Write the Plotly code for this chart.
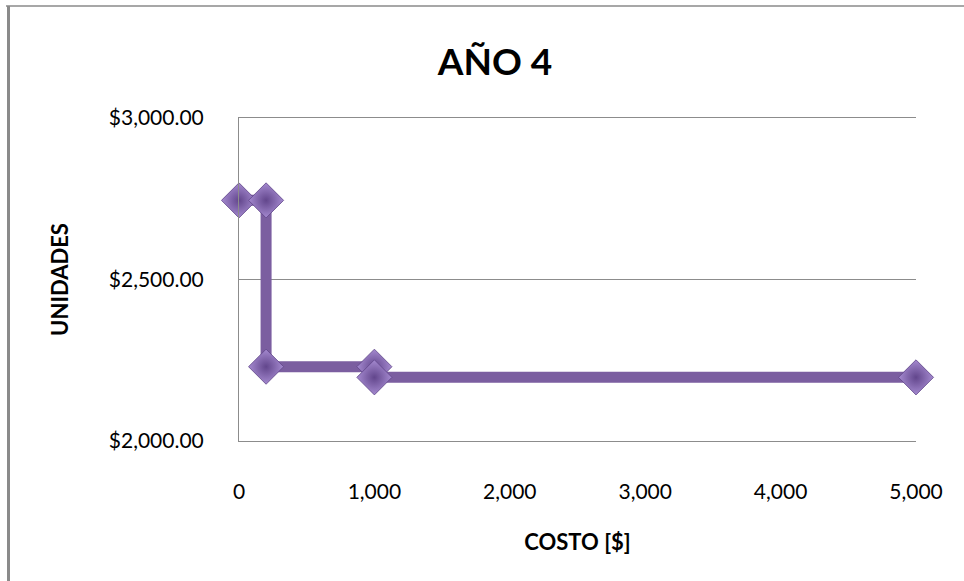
import plotly.graph_objects as go

# Cost (x) vs. units (y) for year 4
costo = [0, 200, 200, 1000, 1000, 5000]
unidades = [2745, 2745, 2230, 2230, 2197, 2197]

x_ticks = [0, 1000, 2000, 3000, 4000, 5000]
y_ticks = [2000, 2500, 3000]

LINE_PURPLE = "#7B5EA0"
GRID_GRAY = "#8C8C8C"
FONT = "Lato"

fig = go.Figure()
fig.add_trace(go.Scatter(
    x=costo,
    y=unidades,
    mode="lines+markers",
    line=dict(color=LINE_PURPLE, width=11),
    marker=dict(
        symbol="diamond",
        size=27,
        color="#A58AD0",
        gradient=dict(type="radial", color="#62468C"),
        line=dict(color="#5E4488", width=0.8),
    ),
    cliponaxis=False,
    showlegend=False,
))

fig.update_layout(
    width=964,
    height=581,
    margin=dict(l=239, r=48, t=118, b=140),
    paper_bgcolor="white",
    plot_bgcolor="white",
    font=dict(family=FONT, color="black", size=21),
    title=dict(
        text="<b>AÑO 4</b>",
        font=dict(family=FONT, size=37, color="black"),
        x=495 / 964,
        xanchor="center",
        xref="container",
        y=1 - 62 / 581,
        yanchor="middle",
        yref="container",
    ),
    xaxis=dict(
        range=[0, 5000],
        tickvals=x_ticks,
        tickformat=",d",
        showgrid=False,
        zeroline=False,
        # bottom and top edges double as the $2,000 / $3,000 gridlines
        showline=True,
        mirror=True,
        linecolor=GRID_GRAY,
        linewidth=1,
        ticks="",
        ticklabelstandoff=32,
        tickfont=dict(family=FONT, size=21),
        title=dict(text="<b>COSTO [$]</b>", font=dict(family=FONT, size=22), standoff=32),
    ),
    yaxis=dict(
        range=[2000, 3000],
        tickvals=y_ticks,
        tickformat="$,.2f",
        showgrid=True,
        gridcolor=GRID_GRAY,
        gridwidth=1,
        zeroline=False,
        showline=True,
        linecolor=GRID_GRAY,
        linewidth=1,
        ticks="",
        ticklabelstandoff=30,
        tickfont=dict(family=FONT, size=21),
        title=dict(text="<b>UNIDADES</b>", font=dict(family=FONT, size=22), standoff=34),
    ),
)

# Outer chart frame: thin top edge and heavier left edge
fig.add_shape(type="line", xref="paper", yref="paper",
              x0=(6 - 239) / 677, x1=(964 - 239) / 677,
              y0=1 + (118 - 6) / 323, y1=1 + (118 - 6) / 323,
              line=dict(color="#8A8A8A", width=1.5))
fig.add_shape(type="line", xref="paper", yref="paper",
              x0=(8.5 - 239) / 677, x1=(8.5 - 239) / 677,
              y0=1 + (118 - 6) / 323, y1=-(581 - 441) / 323,
              line=dict(color="#8A8A8A", width=3))

fig.write_html("out.html")
